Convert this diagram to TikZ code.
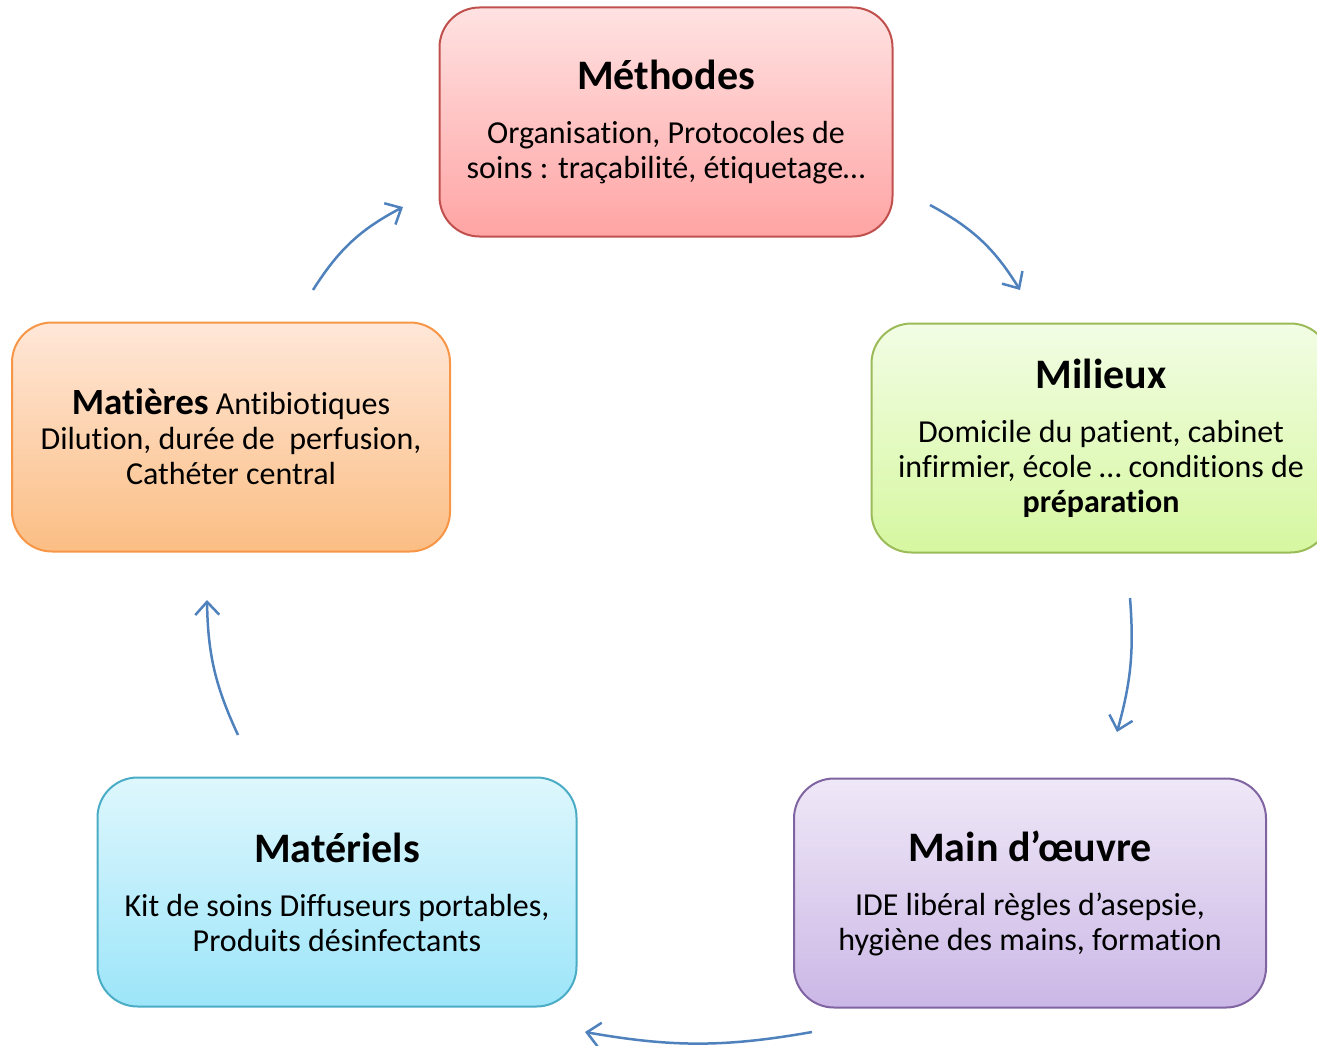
\documentclass[tikz,border=0pt]{standalone}
\usepackage{fontspec}
\setmainfont{Carlito}[Ligatures=NoCommon]
\usepackage{tikz}
\usetikzlibrary{arrows.meta,positioning}
\definecolor{arrblue}{RGB}{79,129,189}
\definecolor{redline}{RGB}{192,80,77}
\definecolor{greenline}{RGB}{155,187,89}
\definecolor{orangeline}{RGB}{247,150,70}
\definecolor{cyanline}{RGB}{75,172,198}
\definecolor{violetline}{RGB}{128,100,162}
\newcommand{\titre}[1]{{\fontsize{42}{46}\selectfont\bfseries #1}\\[19pt]}

\begin{document}
\begin{tikzpicture}[x=1pt, y=-1pt,
    box/.style={rectangle, rounded corners=40pt, line width=2pt,
                minimum height=229pt, align=center,
                font=\fontsize{32}{35}\selectfont},
    arr/.style={-{Straight Barb[length=13pt, width=24pt]}, arrblue, line width=2.5pt}]
\useasboundingbox (0,0) rectangle (1317,1046);
\node[box, draw=redline, top color={rgb,255:red,255;green,226;blue,226},
      bottom color={rgb,255:red,255;green,164;blue,164}, minimum width=453pt]
      (met) at (666,122) {\titre{Méthodes}Organisation, Protocoles de\\soins : traçabilité, étiquetage…};
\node[box, draw=greenline, top color={rgb,255:red,242;green,253;blue,228},
      bottom color={rgb,255:red,214;green,247;blue,160}, minimum width=459pt]
      (mil) at (1101,438) {\titre{Milieux}Domicile du patient, cabinet\\infirmier, école … conditions de\\\textbf{préparation}};
\node[box, draw=violetline, top color={rgb,255:red,239;green,232;blue,247},
      bottom color={rgb,255:red,203;green,183;blue,230}, minimum width=472pt]
      (mdo) at (1030,893) {\titre{Main d’œuvre}IDE libéral règles d’asepsie,\\hygiène des mains, formation};
\node[box, draw=cyanline, top color={rgb,255:red,222;green,247;blue,253},
      bottom color={rgb,255:red,156;green,229;blue,249}, minimum width=479pt]
      (mtr) at (337,892) {\titre{Matériels}Kit de soins Diffuseurs portables,\\Produits désinfectants};
\node[box, draw=orangeline, top color={rgb,255:red,255;green,231;blue,216},
      bottom color={rgb,255:red,251;green,190;blue,132}, minimum width=438pt]
      (mat) at (231,437) {{\fontsize{37}{35}\selectfont\bfseries Matières} Antibiotiques\\Dilution, durée de~~perfusion,\\Cathéter central};
% free ends of the arrows
\coordinate (met-out) at (930,205);
\coordinate (mil-in) at (1020,290);
\coordinate (mil-out) at (1130,598);
\coordinate (mdo-in) at (1117,732);
\coordinate (mdo-out) at (812,1032);
\coordinate (mtr-in) at (585,1032);
\coordinate (mtr-out) at (238,735);
\coordinate (mat-in) at (207,600);
\coordinate (mat-out) at (313,290);
\coordinate (met-in) at (403,207);
\draw[arr] (met-out) to[bend left=15] (mil-in);
\draw[arr] (mil-out) to[bend left=10] (mdo-in);
\draw[arr] (mdo-out) to[bend left=10] (mtr-in);
\draw[arr] (mtr-out) to[bend left=12] (mat-in);
\draw[arr] (mat-out) to[bend left=15] (met-in);
\end{tikzpicture}
\end{document}
